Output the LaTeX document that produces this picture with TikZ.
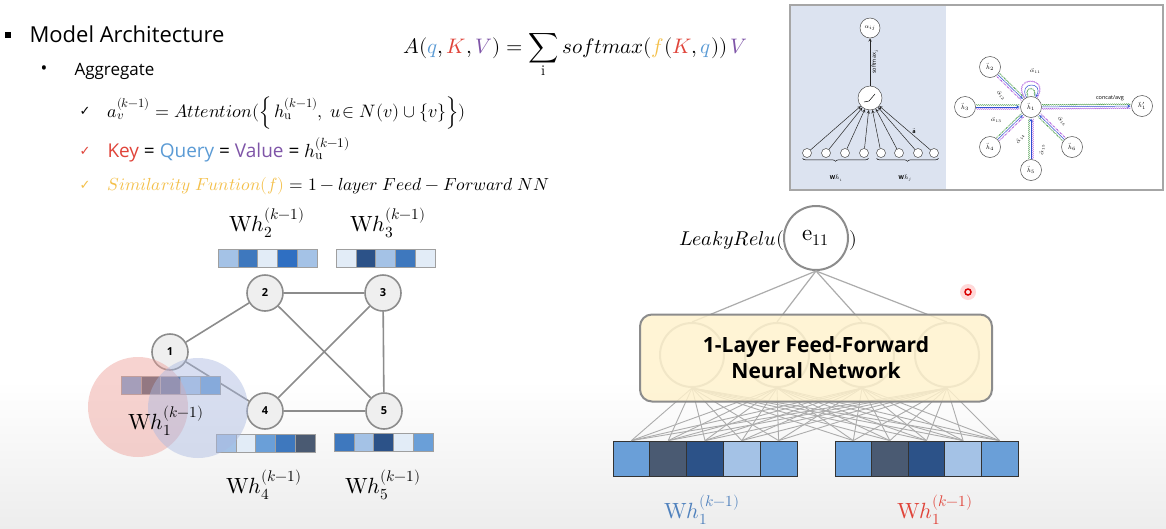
\documentclass[tikz,border=0pt]{standalone}
\usepackage[mathit=sym]{unicode-math}
\setmainfont{Open Sans}
\setmathfont{Latin Modern Math}
\newfontfamily\symfont{DejaVu Sans}
\usepackage{xcolor}
\usetikzlibrary{calc}
\usetikzlibrary{decorations.pathreplacing,decorations.pathmorphing}

\definecolor{qblue}{HTML}{5B9BD5}
\definecolor{kred}{HTML}{E0443A}
\definecolor{vpurple}{HTML}{7F55A8}
\definecolor{fyellow}{HTML}{F4C04A}
\definecolor{edgegray}{HTML}{8C8C8C}
\definecolor{nodefill}{HTML}{EFEFEF}
\definecolor{ffyellow}{HTML}{FFF2CC}
\definecolor{insetbg}{HTML}{DCE3F0}
\definecolor{redhalo}{HTML}{EE9E97}
\definecolor{bluehalo}{HTML}{A9B8E0}
\definecolor{wblue}{HTML}{4F81BD}
\definecolor{cLight}{HTML}{A4C2E6}
\definecolor{cPale}{HTML}{E2ECF7}
\definecolor{cMid}{HTML}{6A9FD8}
\definecolor{cMed}{HTML}{3E78BE}
\definecolor{cBright}{HTML}{2F6FC2}
\definecolor{cDark}{HTML}{2C5288}
\definecolor{cSlate}{HTML}{4A5A72}
\definecolor{attgreen}{HTML}{4F9F4F}
\definecolor{attblue}{HTML}{3050D0}
\definecolor{attpurple}{HTML}{B060E0}

% row of coloured cells: [style]{name}{left x}{centre y}{cell width}{cell height}{colours}
\newcommand{\cellrow}[7][cell]{%
  \foreach \c [count=\i] in {#7}
    \node[#1, fill=\c, minimum width=#5pt, minimum height=#6pt] (#2\i) at ({#3+(\i-0.5)*#5},#4) {};}

% attention link between two inset nodes
\newcommand{\attnlink}[2]{%
  \coordinate (linkstart) at ($(#1)!11pt!(#2)$);
  \coordinate (linkend) at ($(#2)!11.5pt!(#1)$);
  \draw[attgreen, wiggle] ($(linkstart)!2pt!90:(linkend)$) -- ($(linkend)!2pt!-90:(linkstart)$);
  \draw[attpurple, wiggle] ($(linkstart)!2pt!-90:(linkend)$) -- ($(linkend)!2pt!90:(linkstart)$);
  \draw[attblue, line width=0.5pt, -stealth] (linkstart) -- (linkend);}

\begin{document}
\begin{tikzpicture}[x=1pt,y=-1pt,
    gnode/.style={circle, draw=edgegray, line width=1.6pt, fill=nodefill, minimum size=36pt, inner sep=0pt, font=\bfseries\fontsize{11}{12}\selectfont},
    gedge/.style={draw=edgegray, line width=1.6pt},
    cell/.style={draw=gray!75, line width=0.6pt, inner sep=0pt},
    nncell/.style={draw=black!80, line width=0.8pt, inner sep=0pt},
    wlabel/.style={font=\fontsize{22}{24}\selectfont},
    hidden/.style={circle, draw=gray!60, line width=2pt, minimum size=64pt, inner sep=0pt},
    nnline/.style={draw=gray!65, line width=0.9pt},
    insnode/.style={circle, draw=gray!60!black, line width=0.5pt, fill=white, inner sep=0pt, font=\fontsize{6}{7}\selectfont},
    insarrow/.style={draw=gray!30!black, line width=0.5pt, -stealth},
    inslabel/.style={font=\fontsize{5.5}{6}\selectfont, inner sep=0.5pt},
    wiggle/.style={line width=0.4pt, decorate, decoration={snake, amplitude=0.5pt, segment length=2pt}},
    checkmark/.style={font=\symfont\fontsize{13}{14}\selectfont},
    textline/.style={anchor=base west, font=\fontsize{18}{20}\selectfont}]

  %%% PAGE %%%
  \useasboundingbox (0,0) rectangle (1166,528);
  \fill[white] (0,0) rectangle (1166,528);
  \shade[top color=white, bottom color=gray!14] (0,380) rectangle (1166,528);

  %%% TEXT %%%
  \node[fill=black, minimum size=6pt, inner sep=0pt] (titlemark) at (8,35) {};
  \node[anchor=base west, font=\fontsize{22}{26}\selectfont] (title) at (26,42) {Model Architecture};
  \node[font=\fontsize{18}{20}\selectfont] (aggmark) at (44,70) {•};
  \node[anchor=base west, font=\fontsize{17}{20}\selectfont] (agg) at (71,75) {Aggregate};

  \node[checkmark] (check1) at (85,111) {✓};
  \node[checkmark, text=kred] (check2) at (85,151) {✓};
  \node[checkmark, text=fyellow] (check3) at (85,185) {✓};
  \node[textline] (rule1) at (104,117) {$a_v^{(k-1)} = \mathit{Attention}(\Big\{\, h_{\symup{u}}^{(k-1)},\ u\!\in N(v)\cup\{v\}\Big\})$};
  \node[textline, font=\fontsize{19}{20}\selectfont] (rule2) at (104,157) {{\color{kred}Key} = {\color{qblue}Query} = {\color{vpurple}Value} = $h_{\symup{u}}^{(k-1)}$};
  \node[textline, font=\fontsize{17.5}{20}\selectfont] (rule3) at (104,190) {$\textcolor{fyellow}{\mathit{Similarity}\ \mathit{Funtion}(f)} = 1 - \mathit{layer}\ \mathit{Feed} - \mathit{Forward}\ \mathit{NN}$};

  \node[anchor=base west, font=\fontsize{21}{24}\selectfont] (attn) at (400,53)
    {$\displaystyle A(\textcolor{qblue}{q},\textcolor{kred}{K},\textcolor{vpurple}{V}) = \sum_{\symup{i}} softmax(\textcolor{fyellow}{f}(\textcolor{kred}{K},\textcolor{qblue}{q}))\,\textcolor{vpurple}{V}$};

  %%% INSET %%%
  \fill[insetbg] (790,5) rectangle (946,190);
  \draw[gray!70, line width=2.5pt] (790,5) rectangle (1163,190);

  \node[insnode, minimum size=20pt] (aij) at (870,28) {$\alpha_{ij}$};
  \node[insnode, minimum size=24pt] (act) at (870,98) {};
  \draw[line width=0.5pt] ($(act)+(-6,4)$) -- ($(act)+(-1,3)$) -- ($(act)+(5,-4)$);
  \draw[insarrow] (act) -- node[midway, rotate=90, below=1pt, inslabel] {$\mathrm{softmax}_j$} (aij);
  \foreach \x [count=\i] in {807,826,845,864,881,899,918,934} {
    \node[insnode, minimum size=9pt] (in\i) at (\x,153) {};
    \draw[insarrow] (in\i) -- (act);
  }
  \draw[decorate, decoration={brace, mirror, amplitude=3pt}, line width=0.5pt] ($(in1.south west)+(-1,2)$) -- ($(in4.south east)+(1,2)$);
  \draw[decorate, decoration={brace, mirror, amplitude=3pt}, line width=0.5pt] ($(in5.south west)+(-1,2)$) -- ($(in8.south east)+(1,2)$);
  \node[inslabel] (whi) at (836,178) {$\mathbf{W}\vec{h}_i$};
  \node[inslabel] (whj) at (905,178) {$\mathbf{W}\vec{h}_j$};
  \node[inslabel] (avec) at (914,131) {$\vec{\mathbf{a}}$};

  \node[insnode, minimum size=21pt] (h1) at (1031,107) {$\vec{h}_1$};
  \node[insnode, minimum size=21pt] (h2) at (990,67) {$\vec{h}_2$};
  \node[insnode, minimum size=21pt] (h3) at (965,107) {$\vec{h}_3$};
  \node[insnode, minimum size=21pt] (h4) at (990,147) {$\vec{h}_4$};
  \node[insnode, minimum size=21pt] (h5) at (1031,170) {$\vec{h}_5$};
  \node[insnode, minimum size=21pt] (h6) at (1072,147) {$\vec{h}_6$};
  \node[insnode, minimum size=21pt] (h1p) at (1142,106) {$\vec{h}'_1$};
  \foreach \n in {h2,h3,h4,h5,h6} {\attnlink{\n}{h1}}
  \attnlink{h1}{h1p}
  \draw[attblue, line width=0.5pt, -stealth] (h1.115) .. controls +(-9,-16) and +(9,-16) .. (h1.65);
  \draw[attgreen, wiggle] (h1.105) .. controls +(-5,-10) and +(5,-10) .. (h1.75);
  \draw[attpurple, wiggle] (h1.125) .. controls +(-14,-22) and +(14,-22) .. (h1.55);
  \node[inslabel] (a11) at (1035,71) {$\vec{\alpha}_{11}$};
  \node[inslabel, rotate=-45] (a12) at (1001,95) {$\vec{\alpha}_{12}$};
  \node[inslabel] (a13) at (996,120) {$\vec{\alpha}_{13}$};
  \node[inslabel, rotate=60] (a14) at (1020,139) {$\vec{\alpha}_{14}$};
  \node[inslabel, rotate=90] (a15) at (1042,150) {$\vec{\alpha}_{15}$};
  \node[inslabel, rotate=-45] (a16) at (1062,121) {$\vec{\alpha}_{16}$};
  \node[inslabel] (concat) at (1110,98) {concat/avg};

  %%% GRAPH %%%
  \node[gnode] (g1) at (170,352) {1};
  \node[gnode] (g2) at (265,293) {2};
  \node[gnode] (g3) at (383,293) {3};
  \node[gnode] (g4) at (265,411) {4};
  \node[gnode] (g5) at (384,411) {5};
  \draw[gedge] (g1)--(g2) (g1)--(g4) (g2)--(g3) (g2)--(g5) (g3)--(g4) (g3)--(g5) (g4)--(g5);

  \cellrow{wa}{218}{258}{19.8}{18}{cLight,cMed,cPale,cBright,cLight}
  \cellrow{wb}{336}{258}{19.8}{18}{cPale,cDark,cLight,cMed,cPale}
  \cellrow{wc}{121}{385}{19.8}{18}{cMid,cSlate,cDark,cLight,cMid}
  \cellrow{wd}{216}{443}{19.8}{18}{cLight,cPale,cMid,cMed,cSlate}
  \cellrow{we}{334}{442}{19.8}{18}{cMed,cLight,cDark,cPale,cMid}

  \node[circle, fill=redhalo, fill opacity=0.45, minimum size=100pt] (redspot) at (138,407) {};
  \node[circle, fill=bluehalo, fill opacity=0.45, minimum size=100pt] (bluespot) at (198,408) {};

  \node[wlabel] (lab2) at (267,223) {$\symup{W}h_2^{(k-1)}$};
  \node[wlabel] (lab3) at (388,223) {$\symup{W}h_3^{(k-1)}$};
  \node[wlabel] (lab1) at (166,421) {$\symup{W}h_1^{(k-1)}$};
  \node[wlabel] (lab4) at (264,485) {$\symup{W}h_4^{(k-1)}$};
  \node[wlabel] (lab5) at (383,485) {$\symup{W}h_5^{(k-1)}$};

  %%% FEED-FORWARD %%%
  \foreach \x [count=\j] in {692,777,862,947}
    \node[hidden] (N\j) at (\x,355) {};
  \node[circle, draw=edgegray, line width=2pt, fill=white, minimum size=64pt, inner sep=0pt, font=\fontsize{23}{24}\selectfont] (e11) at (816,238) {$\symup{e}_{11}$};
  \node[anchor=east, inner sep=0pt, font=\fontsize{20}{24}\selectfont] (leaky) at ($(e11.west)+(1,2)$) {$\mathit{LeakyRelu}($};
  \node[anchor=west, inner sep=0pt, font=\fontsize{20}{24}\selectfont] (leakyend) at ($(e11.east)+(0,2)$) {$)$};
  \foreach \j in {1,...,4}
    \draw[nnline, line width=1.2pt] (e11.south) -- (N\j.north);

  \cellrow[nncell]{xl}{613}{458.5}{36.8}{35}{cMid,cSlate,cDark,cLight,cMid}
  \cellrow[nncell]{xr}{835}{458.5}{36.6}{35}{cMid,cSlate,cDark,cLight,cMid}
  \foreach \i in {1,...,5}
    \foreach \j in {1,...,4} {
      \draw[nnline] (xl\i.north) -- (N\j.south);
      \draw[nnline] (xr\i.north) -- (N\j.south);
    }

  \node[draw=edgegray, line width=2pt, rounded corners=12pt, fill=ffyellow, fill opacity=0.82, text opacity=1,
        minimum width=352pt, minimum height=87pt, align=center, font=\bfseries\fontsize{21}{26}\selectfont] (ffnn) at (816,358)
        {1-Layer Feed-Forward\\Neural Network};

  \node[wlabel, text=wblue] (labq) at (702,510) {$\symup{W}h_1^{(k-1)}$};
  \node[wlabel, text=kred] (labk) at (935,510) {$\symup{W}h_1^{(k-1)}$};

  %%% POINTER %%%
  \node[circle, fill=red!30, fill opacity=0.5, minimum size=16pt] (pointerglow) at (968,292) {};
  \node[circle, draw=red!85!black, line width=1.5pt, fill=red!10, minimum size=6pt, inner sep=0pt] (pointer) at (968,292) {};
\end{tikzpicture}
\end{document}
